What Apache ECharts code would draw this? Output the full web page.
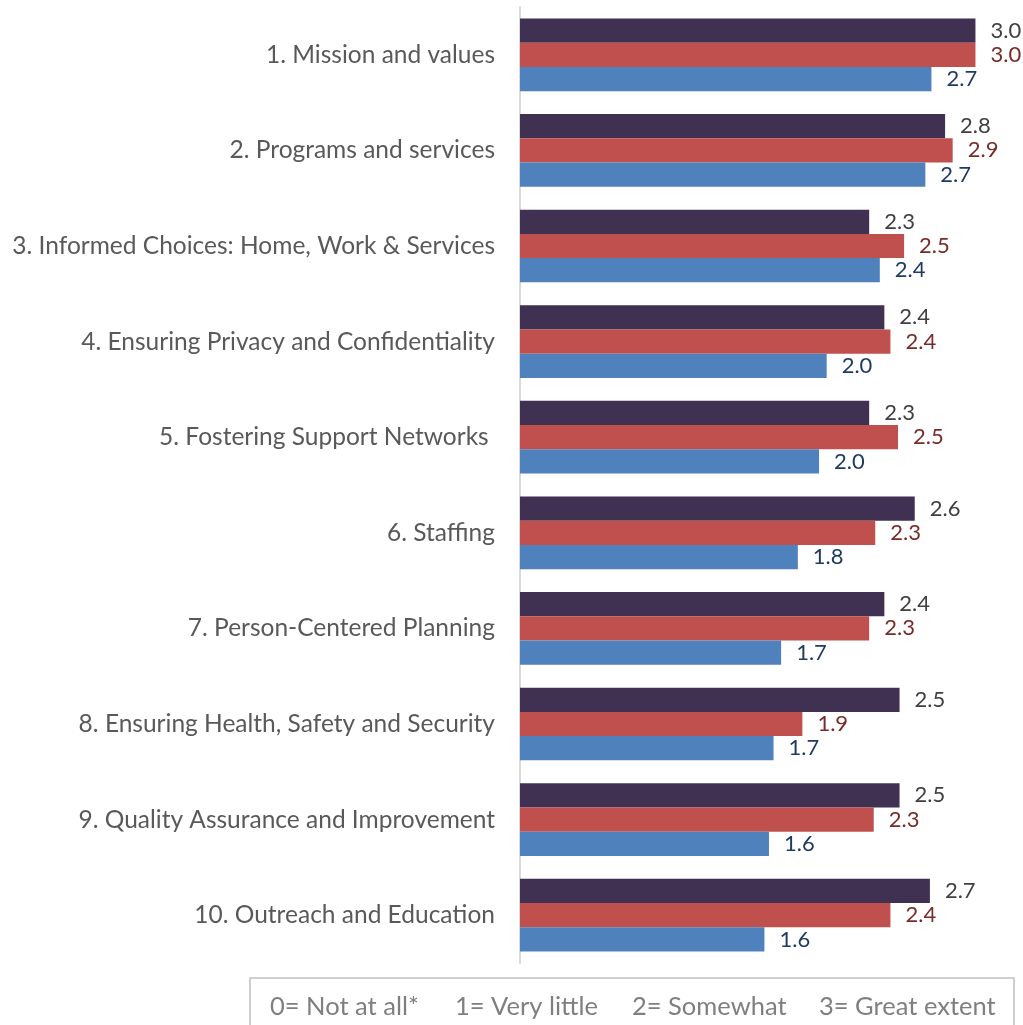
<!DOCTYPE html>
<html style="height: 100%">
<head>
  <meta charset="utf-8">
  <script src="https://cdn.jsdelivr.net/npm/echarts@6/dist/echarts.min.js"></script>
</head>
<body style="height: 100%; margin: 0; background: #fff">
  <div id="container" style="width: 1023px; height: 1025px"></div>
  <script type="text/javascript">
// categories, top to bottom
var categories = [
  '1. Mission and values',
  '2. Programs and services',
  '3. Informed Choices: Home, Work & Services',
  '4. Ensuring Privacy and Confidentiality',
  '5. Fostering Support Networks ',
  '6. Staffing',
  '7. Person-Centered Planning',
  '8. Ensuring Health, Safety and Security',
  '9. Quality Assurance and Improvement',
  '10. Outreach and Education'
];

// values (labels show 1 decimal)
var purpleValues = [3.0, 2.80, 2.30, 2.40, 2.30, 2.60, 2.40, 2.50, 2.50, 2.70];
var redValues    = [3.0, 2.85, 2.53, 2.44, 2.49, 2.34, 2.30, 1.86, 2.33, 2.44];
var blueValues   = [2.71, 2.67, 2.37, 2.02, 1.97, 1.83, 1.72, 1.67, 1.64, 1.61];

var scaleText = ['0= Not at all*', '1= Very little', '2= Somewhat', '3= Great extent'];

var font = 'Lato';

function barSeries(name, data, color, labelColor) {
  return {
    name: name,
    type: 'bar',
    data: data,
    barGap: '0%',
    barCategoryGap: '24%',
    itemStyle: { color: color },
    label: {
      show: true,
      position: 'right',
      distance: 15,
      color: labelColor,
      fontFamily: font,
      fontSize: 22,
      formatter: function (p) { return p.value.toFixed(1); }
    },
    silent: true
  };
}

var dom = document.getElementById('container');
var myChart = echarts.init(dom);
var legendX = [270, 455, 632, 819];

var option = {
  animation: false,
  grid: { left: 520, right: 2, top: 7, bottom: 62, containLabel: false },
  xAxis: {
    type: 'value',
    min: 0,
    max: 3.3,
    show: false
  },
  yAxis: {
    type: 'category',
    data: categories,
    inverse: true,
    axisLine: { show: true, lineStyle: { color: '#D9D9D9', width: 2 } },
    axisTick: { show: false },
    axisLabel: {
      margin: 25,
      color: '#595959',
      fontFamily: font,
      fontSize: 24.5
    }
  },
  series: [
    barSeries('Purple', purpleValues, '#403152', '#404040'),
    barSeries('Red', redValues, '#C0504D', '#772C2A'),
    barSeries('Blue', blueValues, '#4F81BD', '#1F3B64')
  ],
  graphic: [
    {
      type: 'rect',
      shape: { x: 250, y: 978, width: 764, height: 60 },
      style: { fill: 'none', stroke: '#BFBFBF', lineWidth: 1.5 }
    }
  ].concat(scaleText.map(function (t, i) {
    return {
      type: 'text',
      x: legendX[i],
      y: 1007,
      style: {
        text: t,
        fill: '#7F7F7F',
        font: '25.5px ' + font,
        textVerticalAlign: 'middle'
      }
    };
  }))
};

myChart.setOption(option);
  </script>
</body>
</html>
